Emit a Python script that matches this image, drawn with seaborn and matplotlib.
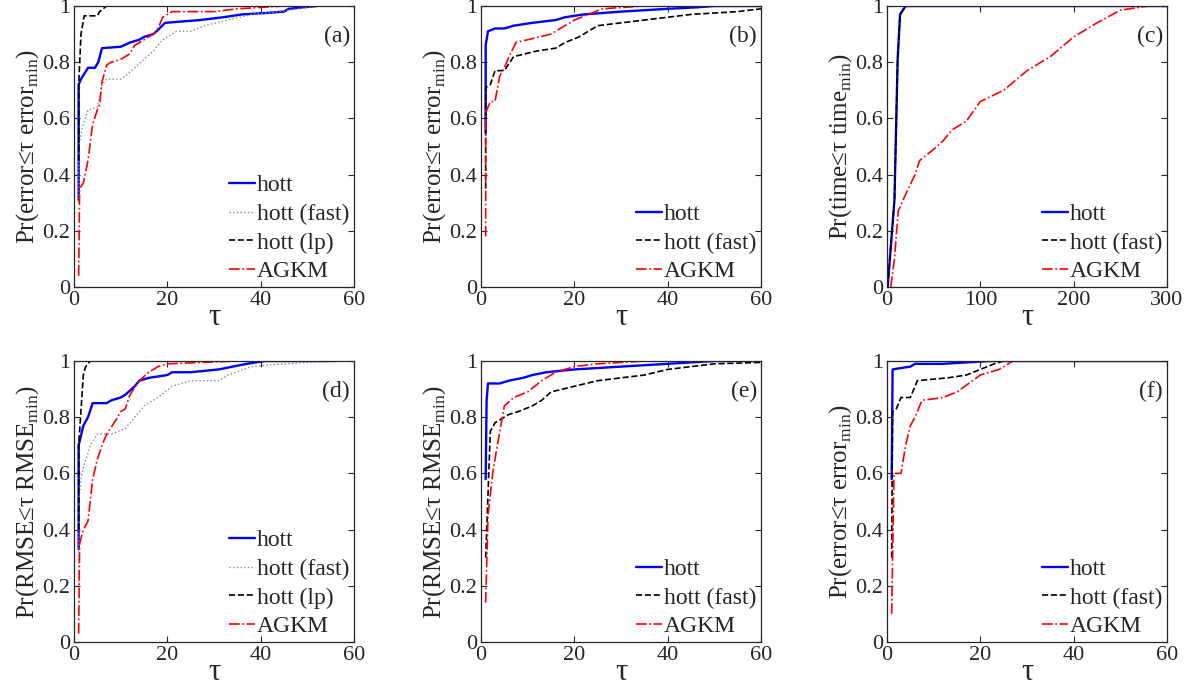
import matplotlib
matplotlib.use("Agg")
import matplotlib.pyplot as plt
import seaborn as sns

# performance profiles
# (a) error
tau_a_hott = [1, 1, 1.5, 3, 4.5, 5.2, 6, 10, 12, 14, 15, 17, 18, 19.5, 27, 32, 36, 41, 45, 46, 52]
pr_a_hott = [0.31, 0.72, 0.74, 0.78, 0.78, 0.80, 0.85, 0.855, 0.87, 0.88, 0.89, 0.90, 0.915, 0.94, 0.95, 0.96, 0.97, 0.975, 0.98, 0.99, 1.0]
tau_a_fast = [1, 1, 2, 3, 5, 6, 7, 10, 11, 13, 15, 17, 19, 22, 25, 28, 33, 38, 44, 48, 52]
pr_a_fast = [0.3, 0.5, 0.58, 0.63, 0.64, 0.72, 0.74, 0.74, 0.75, 0.78, 0.81, 0.84, 0.88, 0.91, 0.91, 0.93, 0.95, 0.97, 0.98, 0.99, 1.0]
tau_a_lp = [1, 1, 1.5, 2.2, 5, 5.5, 7, 52]
pr_a_lp = [0.45, 0.72, 0.90, 0.965, 0.965, 0.98, 1.0, 1.0]
tau_a_agkm = [1, 1.2, 2, 3, 4, 5, 5.5, 6, 7, 8, 10, 12, 13, 15, 17, 18, 19, 21, 30, 35, 45, 52]
pr_a_agkm = [0.04, 0.35, 0.37, 0.45, 0.58, 0.63, 0.65, 0.73, 0.79, 0.80, 0.81, 0.83, 0.86, 0.88, 0.90, 0.92, 0.96, 0.98, 0.98, 0.99, 1.0, 1.0]

# (b) error
tau_b_hott = [1, 1, 1.5, 3, 5, 7, 11, 16, 18, 22, 30, 40, 46, 50, 60]
pr_b_hott = [0.55, 0.86, 0.91, 0.92, 0.92, 0.93, 0.94, 0.95, 0.96, 0.97, 0.98, 0.99, 0.995, 1.0, 1.0]
tau_b_fast = [1, 1, 2, 3, 5, 7, 12, 16, 18, 21, 25, 30, 35, 40, 45, 50, 55, 60]
pr_b_fast = [0.35, 0.71, 0.72, 0.77, 0.77, 0.82, 0.84, 0.85, 0.87, 0.89, 0.93, 0.94, 0.95, 0.96, 0.97, 0.975, 0.98, 0.99]
tau_b_agkm = [1, 1, 2, 3, 4, 5, 6, 7.5, 10, 15, 17, 20, 23, 26, 35, 60]
pr_b_agkm = [0.18, 0.62, 0.66, 0.66, 0.75, 0.78, 0.82, 0.87, 0.88, 0.90, 0.92, 0.95, 0.97, 0.99, 1.0, 1.0]

# (c) time
tau_c_hott = [0.7, 8, 11.4, 14, 20, 300]
pr_c_hott = [0.0, 0.31, 0.81, 0.97, 1.0, 1.0]
tau_c_fast = [0.7, 8, 11.4, 14, 20, 300]
pr_c_fast = [0.0, 0.31, 0.81, 0.97, 1.0, 1.0]
tau_c_agkm = [4, 8, 12, 20, 30, 35, 50, 60, 70, 85, 100, 125, 150, 175, 200, 225, 250, 260, 280, 300]
pr_c_agkm = [0.0, 0.10, 0.27, 0.33, 0.40, 0.45, 0.49, 0.52, 0.56, 0.59, 0.66, 0.70, 0.77, 0.82, 0.89, 0.94, 0.985, 0.99, 1.0, 1.0]

# (d) RMSE
tau_d_hott = [1, 1, 2, 3, 4, 7, 8, 10, 11, 13, 14, 16, 20, 21, 25, 31, 34, 37, 41, 56]
pr_d_hott = [0.33, 0.70, 0.77, 0.80, 0.85, 0.85, 0.86, 0.87, 0.88, 0.91, 0.93, 0.94, 0.95, 0.96, 0.96, 0.97, 0.98, 0.99, 1.0, 1.0]
tau_d_fast = [1, 1, 1.5, 2, 3.5, 5, 8, 11, 13, 15, 18, 21, 25, 31, 33, 38, 45, 56]
pr_d_fast = [0.2, 0.5, 0.58, 0.62, 0.70, 0.74, 0.74, 0.76, 0.80, 0.84, 0.87, 0.91, 0.93, 0.93, 0.95, 0.98, 0.99, 1.0]
tau_d_lp = [1, 1, 2, 2.5, 3.5, 56]
pr_d_lp = [0.4, 0.70, 0.95, 0.98, 1.0, 1.0]
tau_d_agkm = [1, 1.2, 2, 3, 4, 5, 6, 7, 9, 10, 11, 12, 14, 16, 18, 20, 35, 56]
pr_d_agkm = [0.03, 0.35, 0.40, 0.43, 0.58, 0.65, 0.70, 0.74, 0.79, 0.82, 0.83, 0.88, 0.93, 0.96, 0.98, 0.99, 1.0, 1.0]

# (e) RMSE
tau_e_hott = [1, 1.2, 1.5, 4, 6, 9, 11, 14, 20, 25, 30, 40, 50, 60]
pr_e_hott = [0.58, 0.86, 0.92, 0.92, 0.93, 0.94, 0.95, 0.96, 0.97, 0.975, 0.98, 0.99, 1.0, 1.0]
tau_e_fast = [1, 2, 3, 5, 6, 8, 11, 13, 15, 20, 25, 30, 35, 40, 45, 50, 60]
pr_e_fast = [0.3, 0.75, 0.78, 0.80, 0.81, 0.82, 0.84, 0.86, 0.89, 0.91, 0.93, 0.94, 0.95, 0.97, 0.98, 0.99, 0.995]
tau_e_agkm = [1, 1.5, 2.5, 3.5, 5, 7, 10, 13, 16, 20, 25, 35, 60]
pr_e_agkm = [0.14, 0.45, 0.60, 0.70, 0.84, 0.87, 0.89, 0.93, 0.96, 0.98, 0.99, 1.0, 1.0]

# (f) error
tau_f_hott = [1, 1.2, 3, 5, 6, 12, 17, 22, 60]
pr_f_hott = [0.58, 0.97, 0.975, 0.98, 0.99, 0.99, 0.995, 1.0, 1.0]
tau_f_fast = [1, 1.2, 2, 3, 5, 6.5, 13, 17, 20, 23, 25, 60]
pr_f_fast = [0.3, 0.82, 0.83, 0.87, 0.87, 0.93, 0.94, 0.95, 0.97, 0.99, 1.0, 1.0]
tau_f_agkm = [1, 1.5, 3, 4, 5, 6, 7.5, 12, 15, 17.5, 20, 24, 27, 60]
pr_f_agkm = [0.1, 0.6, 0.6, 0.7, 0.77, 0.80, 0.86, 0.87, 0.89, 0.92, 0.95, 0.97, 1.0, 1.0]

styles = {
    "hott": dict(color="#0000ff", linestyle="-", linewidth=1.7),
    "hott (fast) dot": dict(color="#888888", linestyle=":", linewidth=1.0),
    "hott (fast) dash": dict(color="black", linestyle="--", linewidth=1.2),
    "hott (lp)": dict(color="black", linestyle="--", linewidth=1.2),
    "AGKM": dict(color="#ff0000", linestyle="-.", linewidth=1.2),
}

panels = [
    ("(a)", "Pr(error≤τ error$_{\\rm min}$)", 60,
     [("hott", "hott", tau_a_hott, pr_a_hott),
      ("hott (fast)", "hott (fast) dot", tau_a_fast, pr_a_fast),
      ("hott (lp)", "hott (lp)", tau_a_lp, pr_a_lp),
      ("AGKM", "AGKM", tau_a_agkm, pr_a_agkm)]),
    ("(b)", "Pr(error≤τ error$_{\\rm min}$)", 60,
     [("hott", "hott", tau_b_hott, pr_b_hott),
      ("hott (fast)", "hott (fast) dash", tau_b_fast, pr_b_fast),
      ("AGKM", "AGKM", tau_b_agkm, pr_b_agkm)]),
    ("(c)", "Pr(time≤τ time$_{\\rm min}$)", 300,
     [("hott", "hott", tau_c_hott, pr_c_hott),
      ("hott (fast)", "hott (fast) dash", tau_c_fast, pr_c_fast),
      ("AGKM", "AGKM", tau_c_agkm, pr_c_agkm)]),
    ("(d)", "Pr(RMSE≤τ RMSE$_{\\rm min}$)", 60,
     [("hott", "hott", tau_d_hott, pr_d_hott),
      ("hott (fast)", "hott (fast) dot", tau_d_fast, pr_d_fast),
      ("hott (lp)", "hott (lp)", tau_d_lp, pr_d_lp),
      ("AGKM", "AGKM", tau_d_agkm, pr_d_agkm)]),
    ("(e)", "Pr(RMSE≤τ RMSE$_{\\rm min}$)", 60,
     [("hott", "hott", tau_e_hott, pr_e_hott),
      ("hott (fast)", "hott (fast) dash", tau_e_fast, pr_e_fast),
      ("AGKM", "AGKM", tau_e_agkm, pr_e_agkm)]),
    ("(f)", "Pr(error≤τ error$_{\\rm min}$)", 60,
     [("hott", "hott", tau_f_hott, pr_f_hott),
      ("hott (fast)", "hott (fast) dash", tau_f_fast, pr_f_fast),
      ("AGKM", "AGKM", tau_f_agkm, pr_f_agkm)]),
]

sns.set_style("ticks")
plt.rcParams["font.family"] = ["Liberation Serif", "DejaVu Serif"]
plt.rcParams["mathtext.fontset"] = "custom"
plt.rcParams["mathtext.rm"] = "Liberation Serif"

fig = plt.figure(figsize=(11.88, 6.87), dpi=100)
lefts = [74 / 1188, 481 / 1188, 887 / 1188]
bottoms = [1 - 287 / 687, 1 - 642 / 687]
w, h = 280 / 1188, 281 / 687

for i, (tag, ylab, xmax, series) in enumerate(panels):
    ax = fig.add_axes([lefts[i % 3], bottoms[i // 3], w, h])
    for label, key, tau, pr in series:
        sns.lineplot(x=tau, y=pr, ax=ax, label=label, sort=False,
                     estimator=None, **styles[key])
    ax.set_xlim(0, xmax)
    ax.set_ylim(0, 1)
    xt = [0, xmax // 3, 2 * xmax // 3, xmax]
    ax.set_xticks(xt)
    ax.set_xticklabels([str(v) for v in xt])
    ax.set_yticks([0, 0.2, 0.4, 0.6, 0.8, 1])
    ax.set_yticklabels(["0", "0.2", "0.4", "0.6", "0.8", "1"])
    ax.tick_params(direction="in", top=True, right=True, labelsize=16,
                   length=4, width=0.8, pad=3)
    for sp in ax.spines.values():
        sp.set_linewidth(0.9)
    ax.set_xlabel("τ", fontsize=22, labelpad=-5)
    ax.set_ylabel(ylab, fontsize=18, labelpad=1)
    ax.text(0.985, 0.89, tag, transform=ax.transAxes, ha="right",
            va="center", fontsize=17)
    ax.legend(loc="lower right", frameon=False, fontsize=17,
              handlelength=1.1, handletextpad=0.1, labelspacing=0.3,
              borderaxespad=0.0, borderpad=0.2)

fig.savefig("out.png", dpi=100)
